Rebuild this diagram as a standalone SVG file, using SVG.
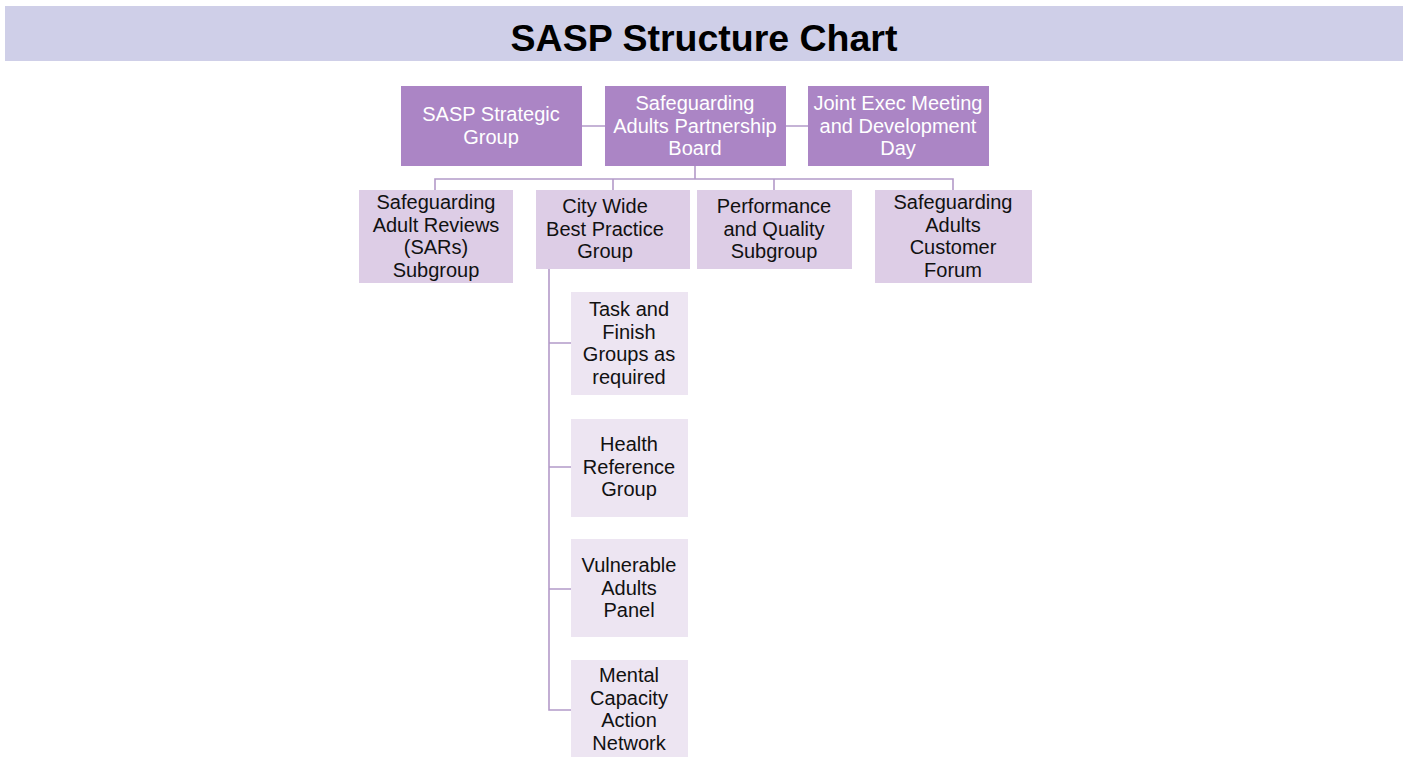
<svg xmlns="http://www.w3.org/2000/svg" width="1403" height="758" viewBox="0 0 1403 758">
<style>
text{font-family:"Liberation Sans",Arial,sans-serif;font-size:20px;text-anchor:middle}
.l1{fill:#AB85C5}
.l2{fill:#DDCDE6}
.l3{fill:#EDE5F2}
.w{fill:#ffffff}
.k{fill:#111111}
.c{stroke:#B39AC9;stroke-width:1.6;fill:none}
</style>
<rect x="0" y="0" width="1403" height="758" fill="#ffffff"/>
<g id="title">
<rect x="5" y="6" width="1398" height="55" fill="#CFCFE8"/>
<text x="704" y="51" style="font-size:37.5px;font-weight:bold" fill="#000">SASP Structure Chart</text>
</g>
<g id="connectors">
<path class="c" d="M582 126H605M786 126H808"/>
<path class="c" d="M695 166V179M435 190V179H953V190M613 179V190M774 179V190"/>
<path class="c" d="M549 269V710H571M549 343H571M549 467H571M549 589H571"/>
</g>
<g id="n-strategic"><rect class="l1" x="401" y="86" width="181" height="80"/>
<text class="w" x="491" y="121">SASP Strategic</text><text class="w" x="491" y="143.5">Group</text></g>
<g id="n-board"><rect class="l1" x="605" y="86" width="181" height="80"/>
<text class="w" x="695" y="110">Safeguarding</text><text class="w" x="695" y="132.5">Adults Partnership</text><text class="w" x="695" y="155">Board</text></g>
<g id="n-joint"><rect class="l1" x="808" y="86" width="181" height="80"/>
<text class="w" x="898" y="110">Joint Exec Meeting</text><text class="w" x="898" y="132.5">and Development</text><text class="w" x="898" y="155">Day</text></g>
<g id="n-sars"><rect class="l2" x="359" y="190" width="154" height="93"/>
<text class="k" x="436" y="209">Safeguarding</text><text class="k" x="436" y="231.5">Adult Reviews</text><text class="k" x="436" y="254">(SARs)</text><text class="k" x="436" y="276.5">Subgroup</text></g>
<g id="n-citywide"><rect class="l2" x="536" y="190" width="154" height="79"/>
<text class="k" x="605" y="213">City Wide</text><text class="k" x="605" y="235.5">Best Practice</text><text class="k" x="605" y="258">Group</text></g>
<g id="n-performance"><rect class="l2" x="697" y="190" width="155" height="79"/>
<text class="k" x="774" y="213">Performance</text><text class="k" x="774" y="235.5">and Quality</text><text class="k" x="774" y="258">Subgroup</text></g>
<g id="n-forum"><rect class="l2" x="875" y="190" width="157" height="93"/>
<text class="k" x="953" y="209">Safeguarding</text><text class="k" x="953" y="231.5">Adults</text><text class="k" x="953" y="254">Customer</text><text class="k" x="953" y="276.5">Forum</text></g>
<g id="n-task"><rect class="l3" x="571" y="292" width="117" height="103"/>
<text class="k" x="629" y="316">Task and</text><text class="k" x="629" y="338.5">Finish</text><text class="k" x="629" y="361">Groups as</text><text class="k" x="629" y="383.5">required</text></g>
<g id="n-health"><rect class="l3" x="571" y="419" width="117" height="98"/>
<text class="k" x="629" y="451">Health</text><text class="k" x="629" y="473.5">Reference</text><text class="k" x="629" y="496">Group</text></g>
<g id="n-vulnerable"><rect class="l3" x="571" y="539" width="117" height="98"/>
<text class="k" x="629" y="572">Vulnerable</text><text class="k" x="629" y="594.5">Adults</text><text class="k" x="629" y="617">Panel</text></g>
<g id="n-mental"><rect class="l3" x="571" y="660" width="117" height="97"/>
<text class="k" x="629" y="682">Mental</text><text class="k" x="629" y="704.5">Capacity</text><text class="k" x="629" y="727">Action</text><text class="k" x="629" y="749.5">Network</text></g>
</svg>
